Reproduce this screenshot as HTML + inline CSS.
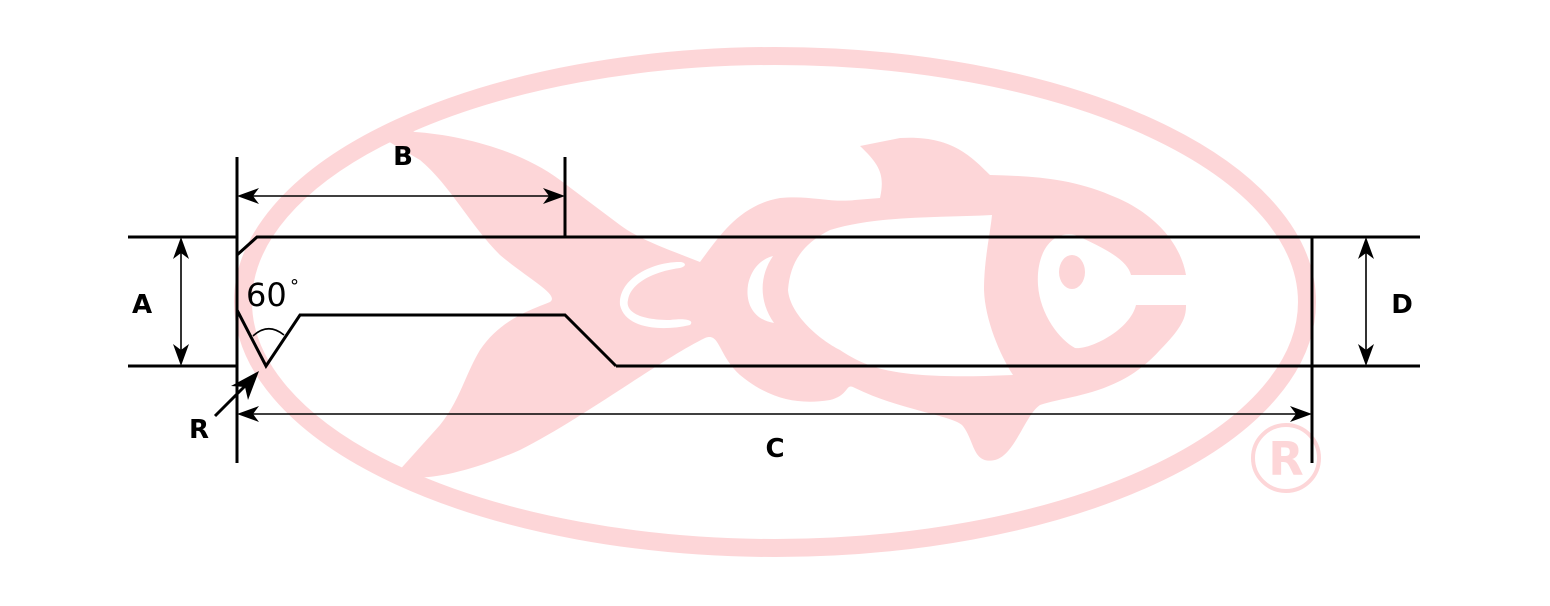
<!DOCTYPE html>
<html><head><style>
html,body{margin:0;padding:0;background:#fff;}
svg{display:block;}
text{font-family:"DejaVu Sans","Liberation Sans",sans-serif;}
</style></head><body>
<svg width="1550" height="606" viewBox="0 0 1550 606" xmlns="http://www.w3.org/2000/svg">
<g fill="#fdd6d8" stroke="none">
<ellipse cx="775" cy="302" rx="532" ry="246" fill="none" stroke="#fdd6d8" stroke-width="18"/>
<path d="M386,140 L420,160 C450,185 470,225 500,255 C530,280 560,295 550,302 C530,310 500,320 480,350 C465,375 460,400 440,425 L396,474 C420,484 470,472 520,450 C580,420 660,360 705,338 C720,332 718,355 740,375 C770,400 800,405 830,400 C850,395 845,382 855,388 C900,410 950,415 962,425 C975,440 972,465 995,460 C1015,455 1025,415 1040,405 C1070,395 1120,395 1160,350 C1185,325 1186,315 1186,305 L1136,305 C1130,330 1090,350 1075,348 C1060,340 1040,315 1038,285 C1036,255 1050,230 1075,235 C1110,250 1128,262 1131,275 L1186,275 C1180,240 1150,210 1110,195 C1070,178 1030,176 990,175 C970,155 950,135 900,138 L860,146 C880,165 885,175 880,198 L855,200 C830,203 810,195 780,198 C740,205 720,235 700,262 C670,250 640,240 620,225 L560,180 C520,150 460,135 415,132 C395,128 430,112 520,92 C600,78 500,85 440,105 C410,115 396,128 386,140 Z"/>
<circle cx="1286" cy="458" r="33" fill="none" stroke="#fdd6d8" stroke-width="4"/>
<text x="1286" y="475" font-size="46" font-weight="bold" text-anchor="middle" fill="#fdd6d8">R</text>
</g>
<g fill="#fff">
<path d="M992,215 C940,218 880,215 830,230 C800,245 790,265 788,290 C790,315 820,340 840,350 C870,370 900,380 1013,375 C1000,355 985,320 984,290 C984,260 990,235 992,215 Z"/>
<path d="M773,256 C760,275 758,300 774,323 C755,320 745,305 748,285 C752,265 765,258 773,256 Z"/>
<path d="M680,262 C650,262 618,280 620,305 C625,328 660,332 690,325 C695,320 685,318 670,320 C640,320 625,312 628,300 C630,285 650,272 680,268 C688,266 685,262 680,262 Z"/>
</g>
<ellipse cx="1072" cy="272" rx="13" ry="17" fill="#fdd6d8"/>
<g stroke="#000" fill="none" stroke-width="3">
<line x1="128" y1="237" x2="237" y2="237"/>
<polyline points="237,255 257,237 1420,237"/>
<line x1="128" y1="366" x2="237" y2="366"/>
<line x1="616" y1="366" x2="1420" y2="366"/>
<line x1="237" y1="157" x2="237" y2="463"/>
<polyline points="237,310 266,366 300,315 565,315 616,366"/>
<line x1="565" y1="157" x2="565" y2="237"/>
<line x1="1312" y1="237" x2="1312" y2="463"/>
<line x1="215" y1="416" x2="245" y2="386"/>
</g>
<g stroke="#000" fill="none" stroke-width="1.6">
<line x1="250" y1="196" x2="552" y2="196"/>
<line x1="181" y1="250" x2="181" y2="353"/>
<line x1="1366" y1="250" x2="1366" y2="353"/>
<line x1="250" y1="414" x2="1300" y2="414"/>
<path d="M253,336 Q268,322 284,335"/>
</g>
<g fill="#000">
<!-- B -->
<polygon points="237,196 259,188 253,196 259,204"/>
<polygon points="565,196 543,188 549,196 543,204"/>
<!-- A -->
<polygon points="181,237 173,259 181,253 189,259"/>
<polygon points="181,366 173,344 181,350 189,344"/>
<!-- D -->
<polygon points="1366,237 1358,259 1366,253 1374,259"/>
<polygon points="1366,366 1358,344 1366,350 1374,344"/>
<!-- C -->
<polygon points="237,414 259,406 253,414 259,422"/>
<polygon points="1312,414 1290,406 1296,414 1290,422"/>
<!-- R -->
<polygon points="259,371 248,400 245,387 231,386"/>
</g>
<g font-weight="bold" font-size="26" fill="#000" text-anchor="middle">
<text x="142" y="313">A</text>
<text x="403" y="165">B</text>
<text x="775" y="457">C</text>
<text x="1402" y="313">D</text>
<text x="199" y="438">R</text>
</g>
<text x="246" y="306" font-size="32" fill="#000">60</text>
<text x="290" y="292" font-size="18" fill="#000">°</text>
</svg>
</body></html>
